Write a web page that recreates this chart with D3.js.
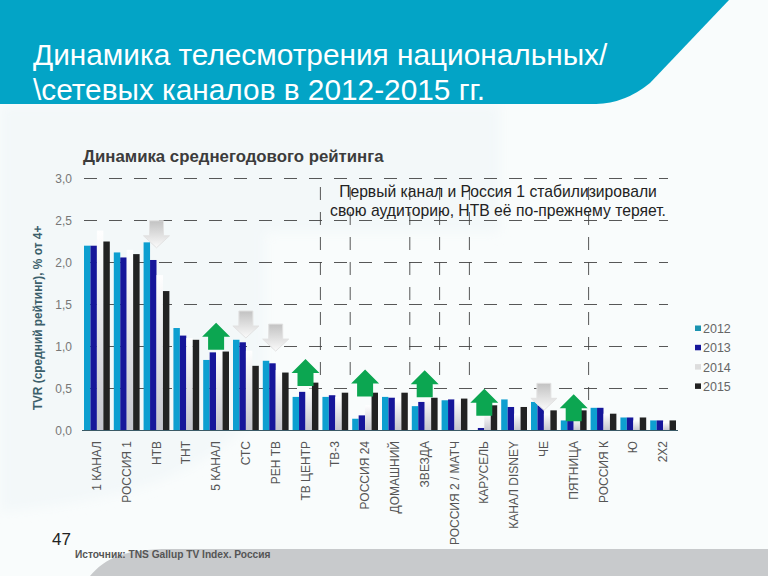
<!DOCTYPE html>
<html>
<head>
<meta charset="utf-8">
<script src="https://cdn.jsdelivr.net/npm/d3@7"></script>
<style>
html, body { margin: 0; padding: 0; background: #fff; }
svg { display: block; font-family: "Liberation Sans", Arial, sans-serif; }
</style>
</head>
<body>
<div id="visualization"></div>
<script>
const channels = ["1 КАНАЛ", "РОССИЯ 1", "НТВ", "ТНТ", "5 КАНАЛ", "СТС", "РЕН ТВ", "ТВ ЦЕНТР", "ТВ-3", "РОССИЯ 24",
    "ДОМАШНИЙ", "ЗВЕЗДА", "РОССИЯ 2 / МАТЧ", "КАРУСЕЛЬ", "КАНАЛ DISNEY", "ЧЕ", "ПЯТНИЦА", "РОССИЯ К", "Ю", "2Х2"];
const years = ["2012", "2013", "2014", "2015"];
const tvr2012 = [2.20, 2.12, 2.24, 1.22, 0.84, 1.08, 0.83, 0.40, 0.40, 0.14, 0.40, 0.29, 0.36, 0.00, 0.37, 0.34, 0.12, 0.27, 0.155, 0.12];
const tvr2013 = [2.20, 2.06, 2.03, 1.13, 0.93, 1.05, 0.80, 0.46, 0.42, 0.18, 0.39, 0.34, 0.37, 0.03, 0.28, 0.30, 0.12, 0.27, 0.155, 0.12];
const tvr2014 = [2.38, 2.15, 1.85, 1.10, 0.95, 0.95, 0.72, 0.50, 0.40, 0.30, 0.38, 0.40, 0.37, 0.20, 0.20, 0.20, 0.15, 0.20, 0.12, 0.10];
const tvr2015 = [2.25, 2.10, 1.66, 1.08, 0.94, 0.77, 0.69, 0.57, 0.45, 0.45, 0.45, 0.39, 0.38, 0.30, 0.28, 0.24, 0.24, 0.20, 0.155, 0.12];
const series = [tvr2012, tvr2013, tvr2014, tvr2015];
const ticks = [0, 0.5, 1, 1.5, 2, 2.5, 3];
const upChannels = ["5 КАНАЛ", "ТВ ЦЕНТР", "РОССИЯ 24", "ЗВЕЗДА", "КАРУСЕЛЬ", "ПЯТНИЦА"];
const upLevels = [1.115, 0.685, 0.56, 0.55, 0.33, 0.265];
const downChannels = ["НТВ", "СТС", "РЕН ТВ", "ЧЕ"];
const downLevels = [2.33, 1.256, 1.10, 0.395];
const dividerChannels = ["ТВ-3", "РОССИЯ 24", "ЗВЕЗДА", "РОССИЯ 2 / МАТЧ", "КАРУСЕЛЬ", "РОССИЯ К"];

const colors = ["#0f9fd0", "#16169a", "#ffffff", "#222222"];

const svg = d3.select("#visualization").append("svg")
    .attr("width", 768)
    .attr("height", 576);

const defs = svg.append("defs");
function vGrad(id, top, bottom) {
    const g = defs.append("linearGradient").attr("id", id).attr("x1", 0).attr("x2", 0).attr("y1", 0).attr("y2", 1);
    g.append("stop").attr("offset", "0%").attr("stop-color", top);
    g.append("stop").attr("offset", "100%").attr("stop-color", bottom);
}
vGrad("white14", "#ffffff", "#c4c4cc");
vGrad("downArrow", "#c2c2c2", "#fbfbfb");
defs.append("filter").attr("id", "soft").append("feGaussianBlur").attr("stdDeviation", 0.45);
defs.append("filter").attr("id", "wash").append("feGaussianBlur").attr("stdDeviation", 6);

// background
svg.append("rect").attr("width", 768).attr("height", 576).attr("fill", "#f9fcfc");
svg.append("path").attr("d", "M0 105 H500 V232 H265 V400 C210 480 120 500 0 512 Z")
    .attr("fill", "#f3f8f9")
    .attr("filter", "url(#wash)");
svg.append("path").attr("d", "M90 576 C105 558 125 549 170 549 L768 549 V576 Z").attr("fill", "#c8cacc");

// header
svg.append("path").attr("d", "M0 0 H729 L650 122 Q625 152 596 153 H0 Z")
    .attr("transform", "scale(1,0.68)")
    .attr("fill", "#03a4c6");
svg.append("text").attr("x", 33).attr("y", 65).attr("font-size", 29.8).attr("fill", "#fff").text("Динамика телесмотрения национальных/");
svg.append("text").attr("x", 33).attr("y", 100).attr("font-size", 29.8).attr("fill", "#fff").text("\\сетевых каналов в 2012-2015 гг.");

const xScale = d3.scaleBand().domain(channels).range([82, 678]);
const yearScale = d3.scaleBand().domain(d3.range(4)).range([2, xScale.bandwidth() - 2]);
const yScale = d3.scaleLinear().domain([0, 3]).range([430.5, 178.5]);

// dashed grid
svg.append("g").selectAll("line")
    .data(ticks.filter(d => d > 0))
    .enter()
    .append("line")
    .attr("x1", 84)
    .attr("x2", 668)
    .attr("y1", d => yScale(d))
    .attr("y2", d => yScale(d))
    .attr("stroke", "#444")
    .attr("stroke-width", 0.9)
    .attr("stroke-dasharray", "13,12");

svg.append("g").selectAll("line")
    .data(dividerChannels)
    .enter()
    .append("line")
    .attr("x1", d => xScale(d))
    .attr("x2", d => xScale(d))
    .attr("y1", 187)
    .attr("y2", d => d === "РОССИЯ К" ? 400 : 376)
    .attr("stroke", "#444")
    .attr("stroke-width", 0.9)
    .attr("stroke-dasharray", "13,12");

// bars
const barsG = svg.append("g").attr("filter", "url(#soft)");
series.forEach((values, i) => {
    barsG.selectAll(".bar" + i)
        .data(values)
        .enter()
        .append("rect")
        .attr("x", (d, j) => xScale(channels[j]) + yearScale(i))
        .attr("y", d => yScale(d))
        .attr("width", yearScale.bandwidth())
        .attr("height", d => yScale(0) - yScale(d))
        .attr("fill", i === 2 ? "url(#white14)" : colors[i]);
});

svg.append("line").attr("x1", 82).attr("x2", 678).attr("y1", yScale(0)).attr("y2", yScale(0))
    .attr("stroke", "#3a5a66").attr("stroke-width", 1.2);

// y labels
svg.append("g").selectAll("text")
    .data(ticks)
    .enter()
    .append("text")
    .attr("x", 72)
    .attr("y", d => yScale(d) + 4)
    .attr("text-anchor", "end")
    .attr("font-size", 12)
    .attr("fill", "#777")
    .text(d => d3.format(".1f")(d).replace(".", ","));

svg.append("text")
    .attr("transform", "translate(42,318) rotate(-90)")
    .attr("text-anchor", "middle")
    .attr("font-size", 11.9)
    .attr("font-weight", "bold")
    .attr("fill", "#3b5f6b")
    .text("TVR (средний рейтинг), % от 4+");

// x labels
svg.append("g").selectAll("text")
    .data(channels)
    .enter()
    .append("text")
    .attr("transform", d => "translate(" + (xScale(d) + xScale.bandwidth() / 2 + 4) + ",441) rotate(-90)")
    .attr("text-anchor", "end")
    .attr("font-size", 12)
    .attr("fill", "#555")
    .text(d => d);

// arrows
const up = "M0 -14 L14 0 H8 V13 H-8 V0 H-14 Z";
const down = "M-7 -14 H7 V1 H13 L0 13 L-13 1 H-7 Z";
svg.append("g").selectAll("path")
    .data(downChannels)
    .enter()
    .append("path")
    .attr("transform", (d, i) => "translate(" + (xScale(d) + xScale.bandwidth() / 2) + "," + yScale(downLevels[i]) + ")")
    .attr("d", down)
    .attr("fill", "url(#downArrow)")
    .attr("stroke", "#e2e2e2");
svg.append("g").selectAll("path")
    .data(upChannels)
    .enter()
    .append("path")
    .attr("transform", (d, i) => "translate(" + (xScale(d) + xScale.bandwidth() / 2) + "," + yScale(upLevels[i]) + ")")
    .attr("d", up)
    .attr("fill", "#0ca651");

// legend
const legend = svg.append("g").selectAll("g")
    .data(years)
    .enter()
    .append("g")
    .attr("transform", (d, i) => "translate(695," + (328.5 + i * 19.3) + ")");
legend.append("rect").attr("y", -3).attr("width", 6).attr("height", 5.5)
    .attr("fill", (d, i) => i === 2 ? "#ddd" : (i === 0 ? "#1b93b0" : colors[i]));
legend.append("text").attr("x", 8).attr("y", 4.5).attr("font-size", 12.5).attr("fill", "#666").text(d => d);

// text
svg.append("text").attr("x", 83).attr("y", 162).attr("font-size", 16.8).attr("font-weight", "bold").attr("fill", "#3c3c3c")
    .text("Динамика среднегодового рейтинга");
svg.append("text").attr("x", 498).attr("y", 197).attr("text-anchor", "middle").attr("font-size", 15.7).attr("fill", "#222")
    .text("Первый канал и Россия 1 стабилизировали");
svg.append("text").attr("x", 498).attr("y", 216).attr("text-anchor", "middle").attr("font-size", 15.7).attr("fill", "#222")
    .text("свою аудиторию, НТВ её по-прежнему теряет.");
svg.append("text").attr("x", 52).attr("y", 545).attr("font-size", 17).attr("fill", "#222").text("47");
svg.append("text").attr("x", 75).attr("y", 558).attr("font-size", 10.2).attr("font-weight", "bold").attr("fill", "#555")
    .text("Источник: TNS Gallup TV Index. Россия");
</script>
</body>
</html>
